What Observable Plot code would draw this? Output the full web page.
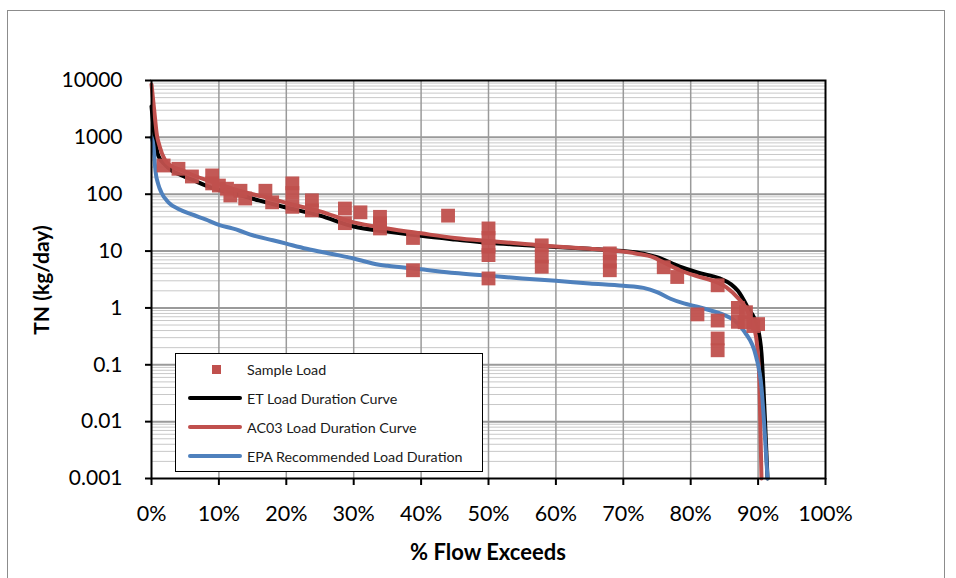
<!DOCTYPE html>
<html>
<head>
<meta charset="utf-8">
<script src="https://cdn.jsdelivr.net/npm/d3@7"></script>
<script src="https://cdn.jsdelivr.net/npm/@observablehq/plot@0.6"></script>
<style>
  html, body { margin: 0; padding: 0; background: #fff; }
  #wrap { position: relative; width: 956px; height: 578px; overflow: hidden; font-family: Lato, "Open Sans", sans-serif; }
  #border { position: absolute; left: 7px; top: 10px; width: 938px; height: 600px; border: 1.5px solid #8c8c8c; box-sizing: border-box; }
  #chart { position: absolute; left: 0; top: 0; }
  .ytitle { position: absolute; left: 40px; top: 280px; transform: translate(-50%, -50%) rotate(-90deg); font-weight: bold; font-size: 21px; white-space: nowrap; color: #000; }
  .xtitle { position: absolute; left: 488px; top: 551px; transform: translate(-50%, -50%); font-weight: bold; font-size: 22px; white-space: nowrap; color: #000; }
  #legend { position: absolute; left: 175px; top: 353px; width: 308px; height: 119px; border: 1.5px solid #000; background: #fff; box-sizing: border-box; }
  .item { position: absolute; left: 0; height: 20px; width: 300px; }
  .item span.t { position: absolute; left: 71px; top: 50%; transform: translateY(-50%); font-size: 14.3px; white-space: nowrap; color: #1a1a1a; }
  .item .ln { position: absolute; left: 12px; width: 54px; height: 4px; top: 8px; border-radius: 2px; }
  .item .sq { position: absolute; left: 36px; width: 9px; height: 9px; top: 5.5px; background: #C0504D; }
</style>
</head>
<body>
<div id="wrap">
  <div id="border"></div>
  <div id="chart"></div>
  <div class="ytitle">TN (kg/day)</div>
  <div class="xtitle">% Flow Exceeds</div>
  <div id="legend"></div>
</div>
<script>
// ---- Data ----
const seriesNames = ["Sample Load", "ET Load Duration Curve", "AC03 Load Duration Curve", "EPA Recommended Load Duration"];
const seriesColors = ["#C0504D", "#000000", "#C0504D", "#4F81BD"];

const yTickValues = [0.001, 0.01, 0.1, 1, 10, 100, 1000, 10000];
const yTickLabels = ["0.001", "0.01", "0.1", "1", "10", "100", "1000", "10000"];
const xTickValues = [0, 10, 20, 30, 40, 50, 60, 70, 80, 90, 100];
const xTickLabels = ["0%", "10%", "20%", "30%", "40%", "50%", "60%", "70%", "80%", "90%", "100%"];

// ET Load Duration Curve (black)
const etPct = [0, 0.3, 0.6, 1, 2, 3, 4.5, 6, 9.4, 12, 15.9, 19.8, 25, 30, 35, 40, 45, 50, 55, 60, 65, 70, 73, 75, 78.4, 81, 84.3, 86, 87, 88.5, 89.9, 90.5, 91, 91.4];
const etVal = [3500, 1500, 800, 480, 330, 260, 214, 180, 124, 105, 78, 59, 42, 27, 22, 18.5, 16, 14, 12.8, 11.8, 11, 10, 9, 7.8, 5.3, 4.2, 3.3, 2.6, 2.0, 1.0, 0.46, 0.16, 0.012, 0.001];

// AC03 Load Duration Curve (red)
const acPct = [0, 0.4, 0.8, 1.2, 2, 3, 4.5, 6, 8, 10, 12, 15, 18, 20, 25, 30, 35, 40, 45, 50, 55, 60, 65, 68.5, 72, 74.4, 76, 78.4, 81, 83.3, 85.3, 87, 88.2, 89.2, 89.7, 90.2, 90.5];
const acVal = [8500, 3000, 1100, 700, 400, 310, 265, 220, 180, 150, 125, 100, 82, 70, 50, 32, 25, 20.5, 17, 15, 13.5, 12, 11, 10.2, 9, 7.8, 6.3, 4.6, 3.6, 3.0, 2.3, 1.5, 1.0, 0.5, 0.31, 0.05, 0.001];

// EPA Recommended Load Duration (blue)
const epaPct = [0, 0.3, 0.6, 1, 1.5, 2.5, 4, 6, 8, 10, 12, 13, 15, 18, 20, 23, 27, 30, 33, 35, 40, 45, 50, 55, 60, 65, 70, 73, 75, 77, 79, 81, 83, 85, 86.5, 88, 89.7, 90.5, 91, 91.4];
const epaVal = [1000, 700, 250, 150, 105, 72, 55, 44, 36, 29, 25, 23, 19, 15.5, 13.5, 11, 8.8, 7.4, 6, 5.5, 4.8, 4.1, 3.7, 3.3, 3.0, 2.7, 2.45, 2.25, 1.9, 1.45, 1.2, 1.05, 0.9, 0.75, 0.6, 0.38, 0.14, 0.04, 0.006, 0.001];

// Sample Load (red squares)
const samplePct = [1.8, 4.0, 6.0, 9.0, 9.0, 10.0, 11.2, 11.7, 13.2, 13.9, 16.9, 17.9, 20.9, 20.9, 20.9, 23.8, 23.8, 28.7, 28.7, 31.0, 33.9, 33.9, 33.9, 38.8, 38.8, 44, 50, 50, 50, 50, 50, 57.9, 57.9, 57.9, 68, 68, 68, 76, 78, 81, 84, 84, 84, 84, 87, 87, 88, 88.2, 89.3, 90];
const sampleVal = [320, 280, 205, 214, 155, 142, 125, 95, 115, 84, 115, 72, 155, 105, 60, 78, 52, 56, 31, 48, 40, 31, 25, 17, 4.6, 42, 25, 17, 12, 8.5, 3.3, 12.6, 8, 5.3, 9.1, 6.5, 4.6, 5.2, 3.5, 0.77, 2.5, 0.6, 0.29, 0.18, 1.0, 0.57, 0.56, 0.84, 0.48, 0.52];

// ---- Build tables ----
const zip = (xs, ys) => xs.map((x, i) => ({x, y: ys[i]}));
const et = zip(etPct, etVal);
const ac = zip(acPct, acVal);
const epa = zip(epaPct, epaVal);
const samples = zip(samplePct, sampleVal);

const minorY = [];
for (let e = -3; e < 4; e++) for (let m = 2; m <= 9; m++) minorY.push(m * Math.pow(10, e));
const majorY = yTickValues.slice(1, -1);
const gridX = xTickValues.slice(1, -1);

const chart = Plot.plot({
  width: 956,
  height: 578,
  marginLeft: 151,
  marginRight: 131,
  marginTop: 80,
  marginBottom: 100,
  style: {fontFamily: "Lato, 'Open Sans', sans-serif", fontSize: "21px", color: "#000", background: "transparent"},
  x: {domain: [0, 100]},
  y: {type: "log", domain: [0.001, 10000]},
  marks: [
    Plot.ruleY(minorY, {stroke: "#c8c8c8", strokeWidth: 1}),
    Plot.ruleY(majorY, {stroke: "#9a9a9a", strokeWidth: 2}),
    Plot.ruleX(gridX, {stroke: "#9a9a9a", strokeWidth: 1.5}),
    Plot.line(et, {x: "x", y: "y", stroke: seriesColors[1], strokeWidth: 4, curve: "monotone-x", strokeLinejoin: "round"}),
    Plot.line(ac, {x: "x", y: "y", stroke: seriesColors[2], strokeWidth: 4, curve: "monotone-x", strokeLinejoin: "round"}),
    Plot.line(epa, {x: "x", y: "y", stroke: seriesColors[3], strokeWidth: 4, curve: "monotone-x", strokeLinejoin: "round"}),
    Plot.dot(samples, {x: "x", y: "y", symbol: "square", r: 7.8, fill: seriesColors[0], fillOpacity: 0.95, stroke: "none"}),
    Plot.frame({stroke: "#000", strokeWidth: 2}),
    Plot.axisY({ticks: yTickValues, tickFormat: d => yTickLabels[yTickValues.indexOf(d)], tickSize: 6, tickPadding: 23, strokeWidth: 2, label: null, fontSize: 21}),
    Plot.axisX({ticks: xTickValues, tickFormat: d => xTickLabels[xTickValues.indexOf(d)], tickSize: 7, tickPadding: 20, strokeWidth: 2, label: null, fontSize: 21.5})
  ]
});
document.getElementById("chart").appendChild(chart);

// ---- Legend ----
const legend = document.getElementById("legend");
const rowsY = [15, 44, 73, 102];
seriesNames.forEach((name, i) => {
  const row = document.createElement("div");
  row.className = "item";
  row.style.top = (rowsY[i] - 10) + "px";
  const sym = document.createElement("div");
  if (i === 0) { sym.className = "sq"; }
  else { sym.className = "ln"; sym.style.background = seriesColors[i]; }
  row.appendChild(sym);
  const t = document.createElement("span");
  t.className = "t";
  t.textContent = name;
  row.appendChild(t);
  legend.appendChild(row);
});
</script>
</body>
</html>
